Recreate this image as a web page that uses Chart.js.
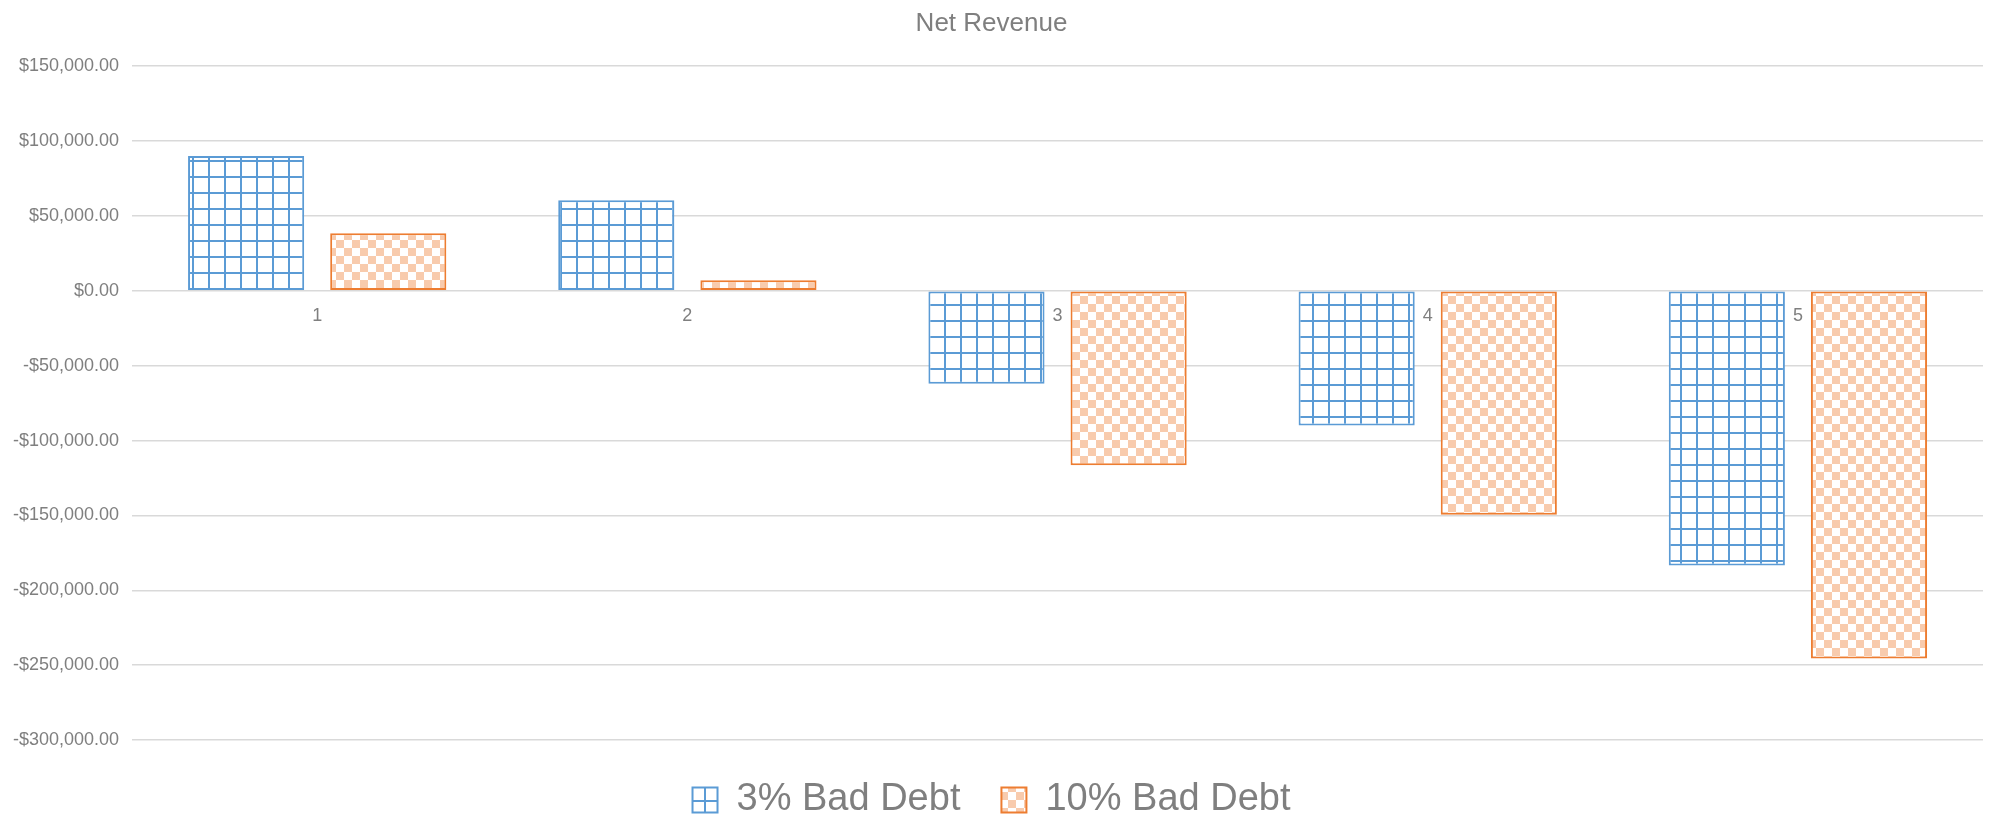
<!DOCTYPE html>
<html lang="en">
  <head>
    <meta charset="utf-8" />
    <title>Net Revenue</title>
    <style>
      * {
        margin: 0;
        padding: 0;
      }
      body {
        background: white;
      }
      .chartBox {
        width: 1997px;
        height: 819px;
      }
    </style>
  </head>
  <body>
    <div class="chartBox">
      <canvas id="myChart"></canvas>
    </div>

    <script src="https://cdn.jsdelivr.net/npm/chart.js@4.2.0/dist/chart.umd.min.js"></script>

    <script>
      // data block
      const categories = ["1", "2", "3", "4", "5"];
      const seriesNames = ["3% Bad Debt", "10% Bad Debt"];
      const badDebt3 = [90000, 60500, -62000, -90000, -183500];
      const badDebt10 = [38500, 7000, -116500, -149500, -245500];
      const yMin = -300000;
      const yMax = 150000;
      const yStep = 50000;

      const textColor = "#7f7f7f";
      const fontFamily = "'Liberation Sans', Arial, sans-serif";

      // patterns
      function gridPattern() {
        const c = document.createElement("canvas");
        c.width = 16;
        c.height = 16;
        const g = c.getContext("2d");
        g.fillStyle = "#ffffff";
        g.fillRect(0, 0, 16, 16);
        g.fillStyle = "#5b9bd5";
        g.fillRect(0, 0, 2, 16);
        g.fillRect(0, 0, 16, 2);
        return g.createPattern(c, "repeat");
      }

      function checkerPattern() {
        const c = document.createElement("canvas");
        c.width = 16;
        c.height = 16;
        const g = c.getContext("2d");
        g.fillStyle = "#ffffff";
        g.fillRect(0, 0, 16, 16);
        g.fillStyle = "#f8cbad";
        g.fillRect(0, 0, 8, 8);
        g.fillRect(8, 8, 8, 8);
        return g.createPattern(c, "repeat");
      }

      const money = new Intl.NumberFormat("en-US", {
        minimumFractionDigits: 2,
        maximumFractionDigits: 2,
      });

      const data = {
        labels: categories,
        datasets: [
          {
            label: seriesNames[0],
            data: badDebt3,
            backgroundColor: gridPattern(),
            borderColor: "#5b9bd5",
            borderWidth: 2,
            borderSkipped: false,
          },
          {
            label: seriesNames[1],
            data: badDebt10,
            backgroundColor: checkerPattern(),
            borderColor: "#ed7d31",
            borderWidth: 2,
            borderSkipped: false,
          },
        ],
      };

      // legend sits lower with a fixed height
      const legendHeight = {
        id: "legendHeight",
        beforeInit(chart) {
          const fit = chart.legend.fit;
          chart.legend.fit = function () {
            fit.bind(chart.legend)();
            this.height = 79;
          };
        },
      };

      // config block
      const config = {
        type: "bar",
        data: data,
        options: {
          responsive: false,
          animation: false,
          categoryPercentage: 0.768,
          barPercentage: 0.817,
          layout: {
            padding: { left: 0, right: 14, top: 4, bottom: 0 },
          },
          plugins: {
            title: {
              display: true,
              text: "Net Revenue",
              color: textColor,
              font: { family: fontFamily, size: 26, weight: "normal" },
              padding: { top: 4, bottom: 27 },
            },
            legend: {
              position: "bottom",
              labels: {
                color: textColor,
                font: { family: fontFamily, size: 38 },
                boxWidth: 25,
                boxHeight: 25,
                padding: 41,
              },
            },
            tooltip: { enabled: false },
          },
          scales: {
            x: {
              position: { y: 0 },
              grid: { display: false },
              border: { display: false },
              ticks: {
                color: textColor,
                font: { family: fontFamily, size: 18 },
                padding: 6,
              },
            },
            y: {
              min: yMin,
              max: yMax,
              grid: {
                color: "#d9d9d9",
                lineWidth: 1.5,
                drawTicks: false,
              },
              border: { display: false },
              ticks: {
                stepSize: yStep,
                color: textColor,
                font: { family: fontFamily, size: 18 },
                padding: 13,
                callback: (v) =>
                  (v < 0 ? "-$" : "$") + money.format(Math.abs(v)),
              },
            },
          },
        },
        plugins: [legendHeight],
      };

      // init render block
      const canvas = document.getElementById("myChart");
      canvas.width = 1997;
      canvas.height = 819;
      const myChart = new Chart(canvas, config);
    </script>
  </body>
</html>
